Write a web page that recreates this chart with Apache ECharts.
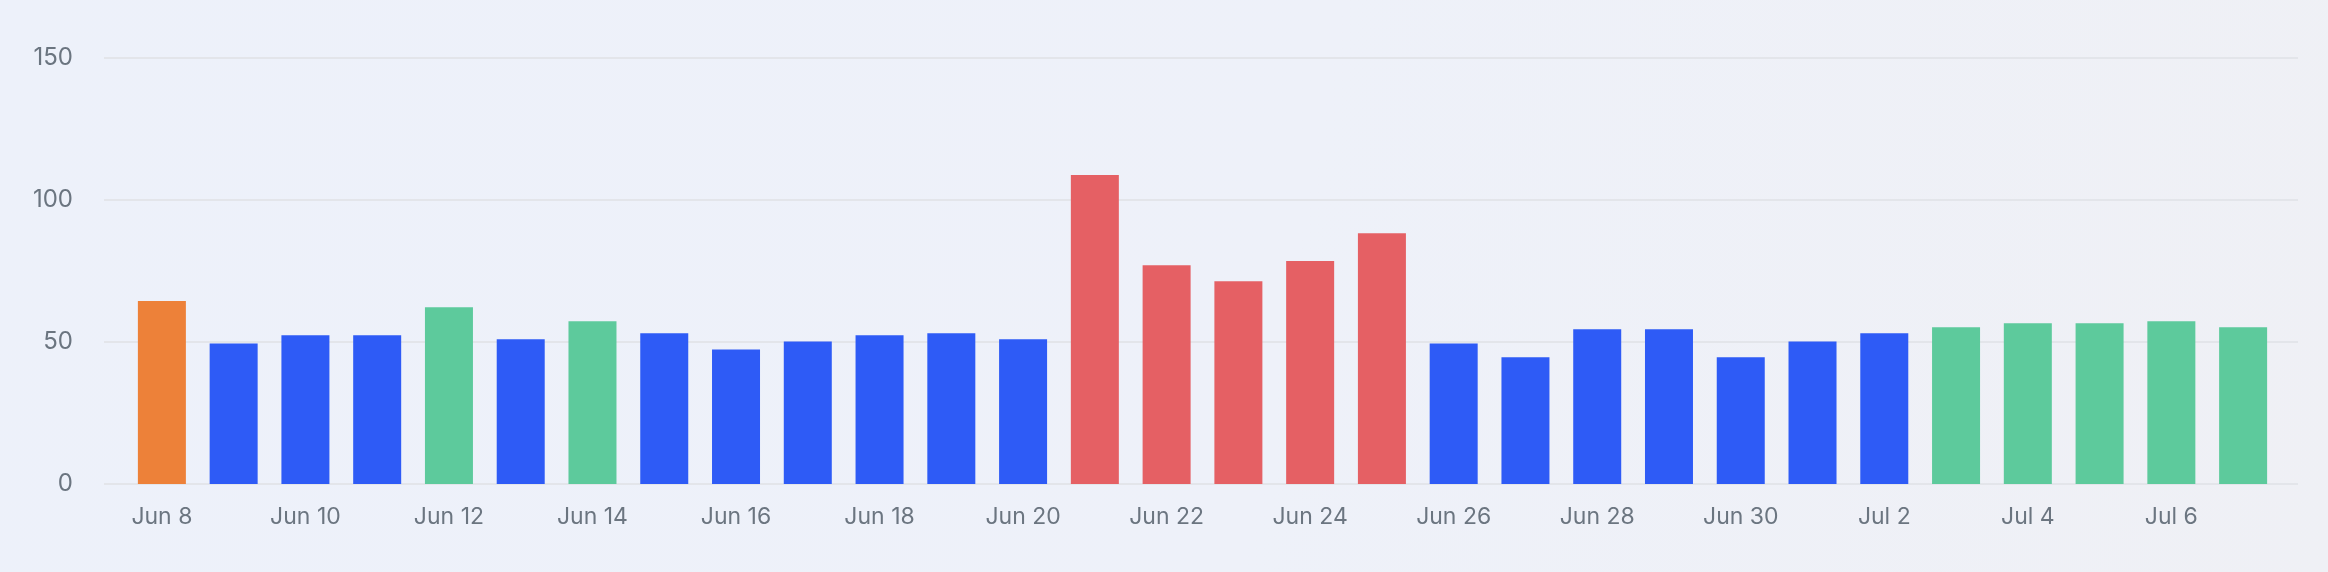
<!DOCTYPE html>
<html>
<head>
<meta charset="utf-8">
<title>Daily volume</title>
<script src="https://cdn.jsdelivr.net/npm/echarts@6/dist/echarts.min.js"></script>
<style>
  html, body { margin: 0; padding: 0; }
  body {
    width: 2328px;
    height: 572px;
    background: linear-gradient(100deg, #edf1fa 0%, #eef1f9 55%, #eff0f5 100%);
  }
  #chart { width: 2328px; height: 572px; }
</style>
</head>
<body>
<div id="chart"></div>
<script>
// days shown on the x axis
const days = [
  'Jun 8', 'Jun 9', 'Jun 10', 'Jun 11', 'Jun 12', 'Jun 13', 'Jun 14', 'Jun 15',
  'Jun 16', 'Jun 17', 'Jun 18', 'Jun 19', 'Jun 20', 'Jun 21', 'Jun 22', 'Jun 23',
  'Jun 24', 'Jun 25', 'Jun 26', 'Jun 27', 'Jun 28', 'Jun 29', 'Jun 30', 'Jul 1',
  'Jul 2', 'Jul 3', 'Jul 4', 'Jul 5', 'Jul 6', 'Jul 7'
]
// daily values
const values = [
  64.4, 49.5, 52.4, 52.4, 62.2, 51, 57.3, 53.1,
  47.4, 50.2, 52.4, 53.1, 51, 108.8, 77, 71.4,
  78.5, 88.3, 49.5, 44.6, 54.5, 54.5, 44.6, 50.2,
  53.1, 55.2, 56.6, 56.6, 57.3, 55.2
]
// status of each day (decides the bar colour)
const status = [
  'first', 'normal', 'normal', 'normal', 'good', 'normal', 'good', 'normal',
  'normal', 'normal', 'normal', 'normal', 'normal', 'high', 'high', 'high',
  'high', 'high', 'normal', 'normal', 'normal', 'normal', 'normal', 'normal',
  'normal', 'good', 'good', 'good', 'good', 'good'
]
const yTicks = [0, 50, 100, 150]

const statusColor = {
  first: '#ed8139',
  normal: '#2e5bf6',
  good: '#5dca9c',
  high: '#e56064'
}

const labelColor = '#6b7580'
const font = 'Inter, "Noto Sans", sans-serif'

const chart = echarts.init(document.getElementById('chart'), null, { renderer: 'canvas' })

chart.setOption({
  backgroundColor: 'transparent',
  animation: false,
  grid: [
    // wide grid: only carries the y labels and the horizontal lines
    { left: 104, right: 30, top: 58, height: 426 },
    // bar grid
    { left: 126, right: 49, top: 58, height: 426 }
  ],
  xAxis: [
    { type: 'value', gridIndex: 0, show: false, min: 0, max: 1 },
    {
      type: 'category',
      gridIndex: 1,
      data: days,
      axisLine: { show: false },
      axisTick: { show: false },
      axisLabel: {
        interval: 1,
        margin: 22,
        color: labelColor,
        fontFamily: font,
        fontSize: 23
      }
    }
  ],
  yAxis: [
    {
      type: 'value',
      gridIndex: 0,
      min: yTicks[0],
      max: yTicks[yTicks.length - 1],
      interval: yTicks[1] - yTicks[0],
      axisLine: { show: false },
      axisTick: { show: false },
      axisLabel: {
        margin: 31,
        color: labelColor,
        fontFamily: font,
        fontSize: 24
      },
      splitLine: { lineStyle: { color: '#e3e5ea', width: 2 } }
    },
    {
      type: 'value',
      gridIndex: 1,
      min: yTicks[0],
      max: yTicks[yTicks.length - 1],
      show: false,
      splitLine: { show: false }
    }
  ],
  series: [{
    type: 'bar',
    xAxisIndex: 1,
    yAxisIndex: 1,
    barWidth: 48,
    data: values.map((v, i) => ({
      value: v,
      itemStyle: { color: statusColor[status[i]] }
    }))
  }]
})
</script>
</body>
</html>
